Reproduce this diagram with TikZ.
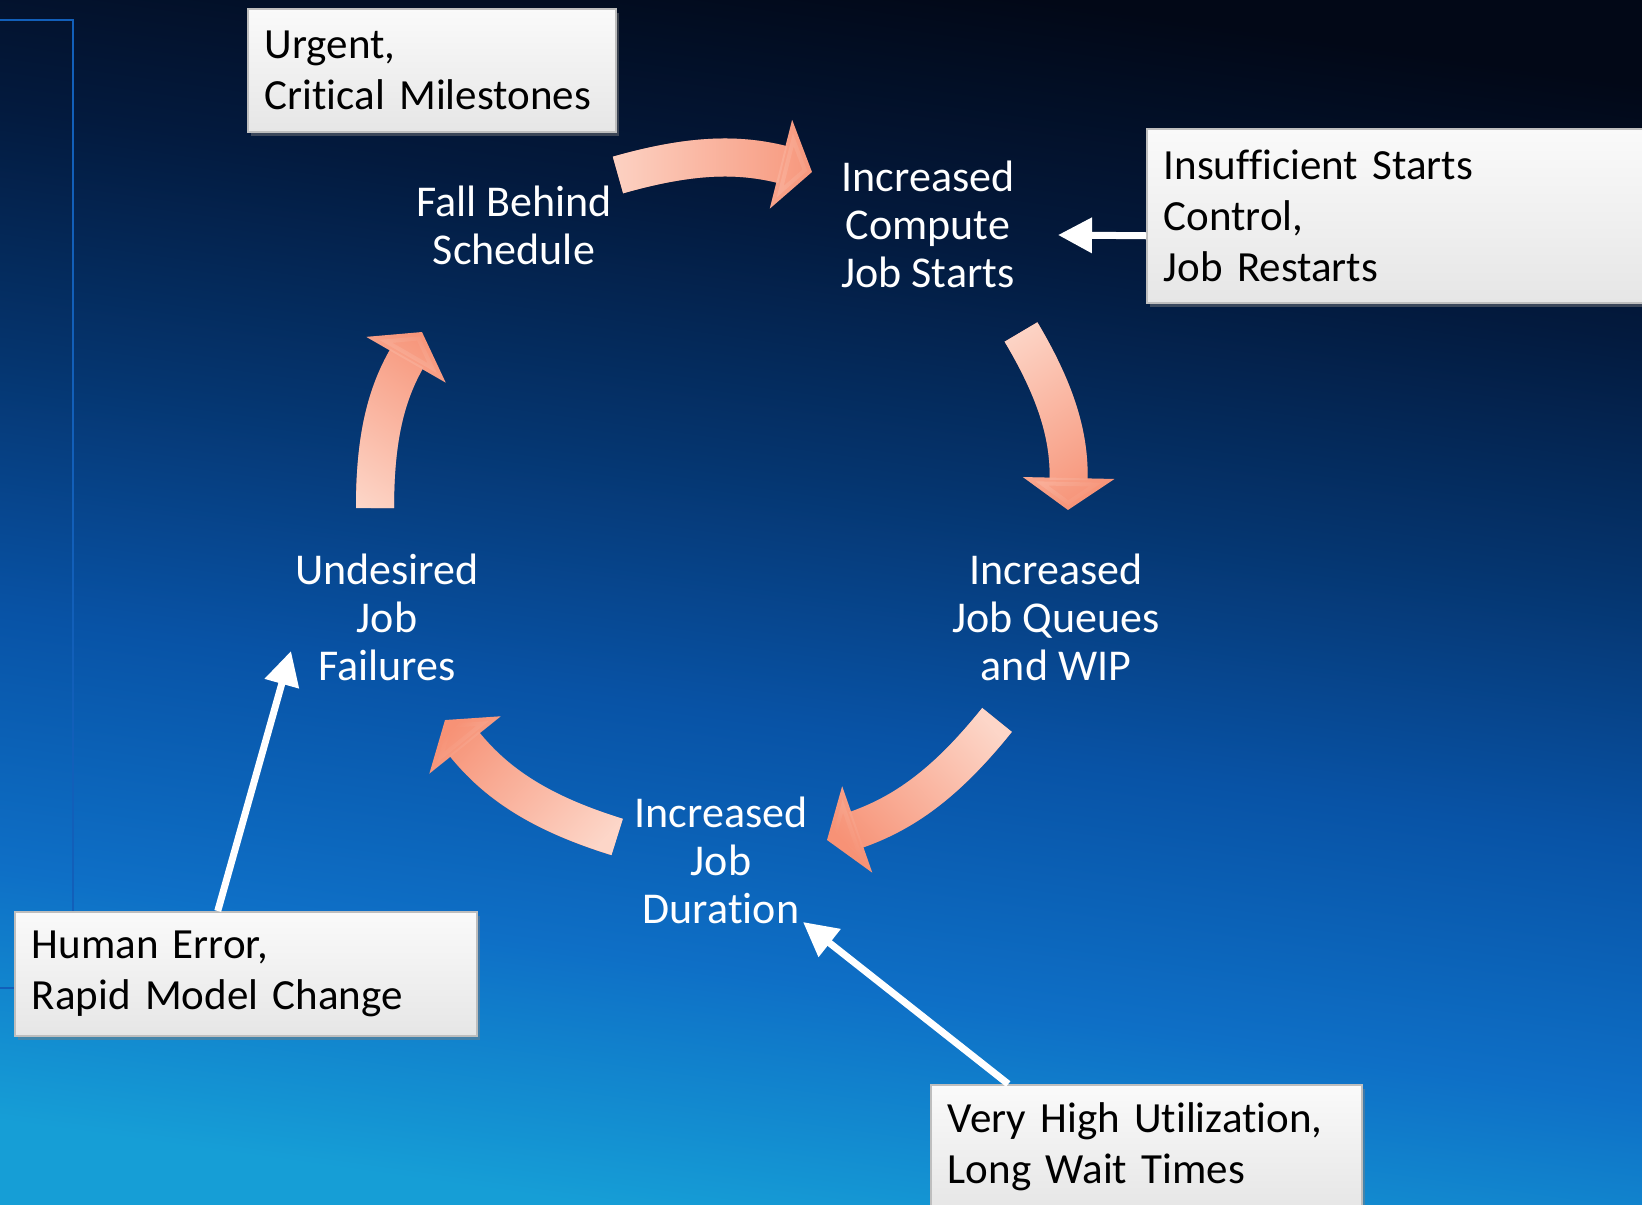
\documentclass[tikz,border=0pt]{standalone}
\usepackage{fontspec}
\setmainfont{Carlito}[Ligatures=NoCommon]
\usetikzlibrary{arrows.meta,shadows,fadings}

\definecolor{bg0}{HTML}{020817}
\definecolor{bg1}{HTML}{031A3E}
\definecolor{bg2}{HTML}{05356F}
\definecolor{bg3}{HTML}{0853A6}
\definecolor{bg4}{HTML}{0E6FC6}
\definecolor{bg5}{HTML}{169ED6}
\definecolor{salmon}{RGB}{247,146,118}
\definecolor{blush}{RGB}{253,214,200}
\definecolor{boxline}{RGB}{190,190,190}
\definecolor{boxtop}{RGB}{250,250,250}
\definecolor{boxbot}{RGB}{230,230,230}
\definecolor{frameblue}{RGB}{18,95,185}

\pgfdeclareverticalshading{bgshade}{100bp}{color(0bp)=(bg5); color(25bp)=(bg5); color(35bp)=(bg4); color(45bp)=(bg3); color(55bp)=(bg2); color(65bp)=(bg1); color(75bp)=(bg0); color(100bp)=(bg0)}
\tikzfading[name=tailfade, left color=transparent!0, right color=transparent!100]

\begin{document}
\begin{tikzpicture}[x=1pt,y=-1pt,
    cycle_node/.style={align=center,text=white,inner sep=0pt,font=\fontsize{44}{48}\selectfont},
    box_node/.style={anchor=north west,draw=boxline,line width=1.5pt,top color=boxtop,bottom color=boxbot,
        drop shadow={shadow xshift=3pt,shadow yshift=-4pt,opacity=0.45},
        align=left,inner xsep=17pt,inner ysep=0pt,font=\fontsize{43}{51}\selectfont},
    flow_arrow/.style={draw=salmon,line width=38pt,-{Triangle[length=32pt,width=90pt]}},
    flow_glow/.style={draw=blush,line width=38pt,-{Triangle[length=32pt,width=90pt]},path fading=tailfade},
    call_arrow/.style={draw=white,line width=7pt,-{Triangle[length=34pt,width=34pt]}}]
\useasboundingbox (0,0) rectangle (1642,1205);
\shade[shading=bgshade,shading angle=-8] (0,0) rectangle (1642,1205);
\draw[frameblue,line width=2.5pt] (0,20) -- (73,20) -- (73,988) -- (0,988);

% the loop
\node[cycle_node] (fall) at (514,225) {Fall Behind\\Schedule};
\node[cycle_node] (starts) at (928,224) {Increased\\Compute\\Job Starts};
\node[cycle_node] (queues) at (1056,617) {Increased\\Job Queues\\and WIP};
\node[cycle_node] (dur) at (721,860) {Increased\\Job\\Duration};
\node[cycle_node] (fail) at (387,617) {Undesired\\Job\\Failures};

\coordinate (fall_out) at (618,175);   \coordinate (starts_in) at (812,172);
\coordinate (starts_out) at (1021,332); \coordinate (queues_in) at (1068,510);
\coordinate (queues_out) at (997,720);  \coordinate (dur_in) at (827,840);
\coordinate (dur_out) at (617,837);     \coordinate (fail_in) at (445,720);
\coordinate (fail_out) at (375,508);    \coordinate (fall_in) at (422,332);

\draw[flow_arrow] (fall_out) to[bend left=15] (starts_in);
\draw[flow_glow,fading angle=0] (fall_out) to[bend left=15] (starts_in);
\draw[flow_arrow] (starts_out) to[bend left=16] (queues_in);
\draw[flow_glow,fading angle=-75] (starts_out) to[bend left=16] (queues_in);
\draw[flow_arrow] (queues_out) to[bend left=16] (dur_in);
\draw[flow_glow,fading angle=-145] (queues_out) to[bend left=16] (dur_in);
\draw[flow_arrow] (dur_out) to[bend left=17] (fail_in);
\draw[flow_glow,fading angle=146] (dur_out) to[bend left=17] (fail_in);
\draw[flow_arrow] (fail_out) to[bend left=15] (fall_in);
\draw[flow_glow,fading angle=75] (fail_out) to[bend left=15] (fall_in);

% causes
\node[box_node,minimum width=368pt,minimum height=123pt,text width=334pt] (urgent) at (247,8) {Urgent,\\Critical Milestones};
\node[box_node,minimum width=520pt,minimum height=174pt,text width=486pt] (insuf) at (1146,128) {Insufficient Starts\\Control,\\Job Restarts};
\node[box_node,minimum width=462pt,minimum height=124pt,text width=428pt] (human) at (14,911) {Human Error,\\Rapid Model Change};
\node[box_node,minimum width=431pt,minimum height=124pt,text width=397pt] (wait) at (930,1084) {Very High Utilization,\\Long Wait Times};

\coordinate (starts_side) at (1058,235);
\coordinate (fail_side) at (291,651);
\coordinate (dur_side) at (803,922);
\draw[call_arrow] ([yshift=-20pt]insuf.west) -- (starts_side);
\draw[call_arrow] ([xshift=-28pt]human.north) -- (fail_side);
\draw[call_arrow] ([xshift=-138pt]wait.north) -- (dur_side);
\end{tikzpicture}
\end{document}
